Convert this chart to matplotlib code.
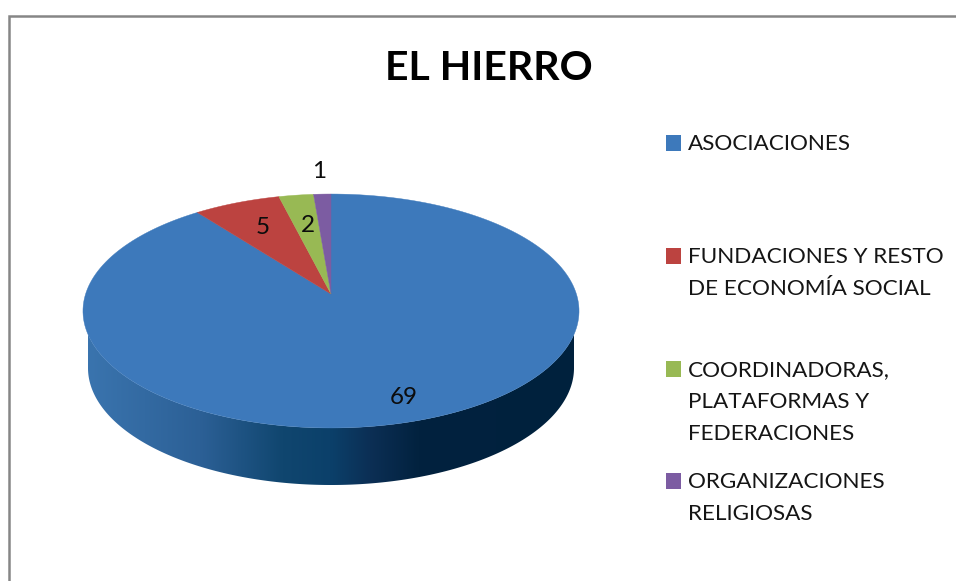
import numpy as np
import matplotlib
matplotlib.use('Agg')
import matplotlib.pyplot as plt
from matplotlib.colors import LinearSegmentedColormap
from matplotlib.patches import Rectangle

plt.rcParams['font.family'] = ['Lato', 'DejaVu Sans']

title = 'EL HIERRO'
categories = ['ASOCIACIONES',
              'FUNDACIONES Y RESTO\nDE ECONOMÍA SOCIAL',
              'COORDINADORAS,\nPLATAFORMAS Y\nFEDERACIONES',
              'ORGANIZACIONES\nRELIGIOSAS']
values = [69, 5, 2, 1]
colors = ['#3d79bb', '#bc4340', '#98b954', '#7c5ca2']

# label and legend places, in pixels of the picture
label_xy = [(404, 397), (263, 227), (308, 225), (319, 172)]
legend_y = [144, 257, 370, 482]
swatch_y = [143, 256, 368.5, 481]
line_gap = 32

W, H = 956, 581
fig = plt.figure(figsize=(W / 100, H / 100), dpi=100)
ax = fig.add_axes([0, 0, 1, 1])
ax.set_xlim(0, W)
ax.set_ylim(H, 0)
ax.axis('off')

# chart frame, cut off by the right and bottom of the screenshot
ax.plot([9.5, 9.5, W + 2], [H + 2, 15.5, 15.5], color='#868686', lw=1.8, solid_joinstyle='miter')

# pie top seen in perspective: the centre of the circle sits above the ellipse centre
cx, apex_y = 331, 294
k, a, b = 0.1453, 245.4, 114.5


def project(theta):
    u, v = np.sin(theta), np.cos(theta)
    w = 1 + k * v
    return cx + a * u / w, apex_y - b * v / w


# side of the pie
top_x, top_y = cx + 248 * np.cos(np.linspace(np.pi, 0, 300)), 311 + 117 * np.sin(np.linspace(np.pi, 0, 300))
t = np.linspace(0, np.pi, 300)
low_x, low_y = cx + 243 * np.cos(t), 368 + 117 * np.sin(t)
side_x = np.r_[top_x, low_x]
side_y = np.r_[top_y, low_y]
side_poly = ax.fill(side_x, side_y, color='none', lw=0)[0]
stops = [(0.0, '#3a74ae'), (0.23, '#2c6096'), (0.40, '#10466f'), (0.50, '#0b406a'),
         (0.58, '#0c2f55'), (0.68, '#02223f'), (1.0, '#00213d')]
cmap = LinearSegmentedColormap.from_list('side', stops)
grad = ax.imshow(np.linspace(0, 1, 256)[None, :], cmap=cmap, extent=(88, 574, 500, 300),
                 aspect='auto', zorder=1, interpolation='bilinear')
grad.set_clip_path(side_poly)
ax.set_xlim(0, W)
ax.set_ylim(H, 0)

# top of the pie, clockwise from twelve o'clock
edges = np.r_[0, np.cumsum(values)] / np.sum(values) * 2 * np.pi
for i, col in enumerate(colors):
    th = np.linspace(edges[i], edges[i + 1], 200)
    x, y = project(th)
    ax.fill(np.r_[cx, x], np.r_[apex_y, y], color=col, lw=0.3, zorder=2)

for val, (x, y) in zip(values, label_xy):
    ax.text(x, y, str(val), ha='center', va='center', fontsize=17.5, color='#0c0c0c', zorder=3)

ax.text(489, 68, title, ha='center', va='center', fontsize=29.5, fontweight='bold', color='black')

for cat, col, y, sy in zip(categories, colors, legend_y, swatch_y):
    ax.add_patch(Rectangle((666, sy - 8), 15.5, 16, facecolor=col, edgecolor='none'))
    for j, line in enumerate(cat.split('\n')):
        ax.text(688, y + j * line_gap, line, ha='left', va='center', fontsize=16.2, color='#151515')

fig.savefig('out.png', dpi=100)
